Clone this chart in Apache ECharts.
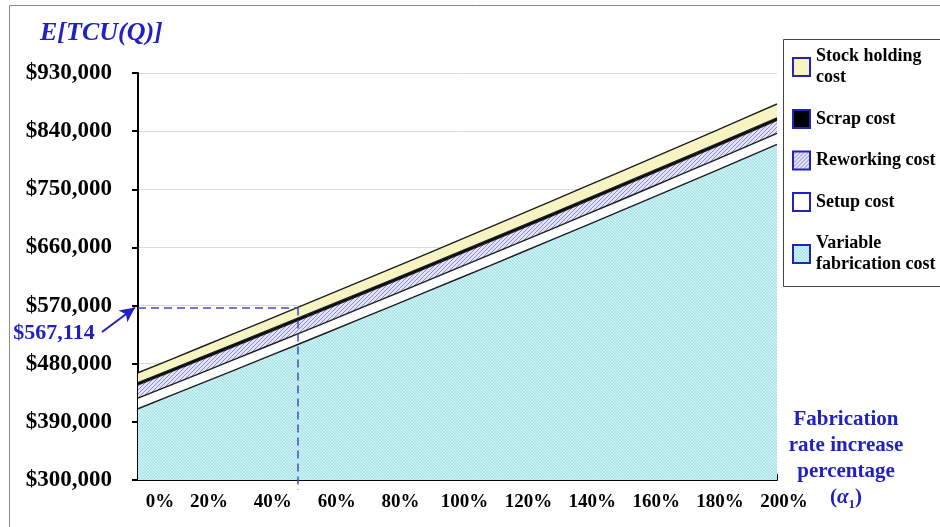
<!DOCTYPE html>
<html>
<head>
<meta charset="utf-8">
<script src="https://cdn.jsdelivr.net/npm/echarts@6/dist/echarts.min.js"></script>
<style>
  html, body { margin: 0; padding: 0; background: #ffffff; }
  #chart { width: 940px; height: 527px; }
</style>
</head>
<body>
<div id="chart"></div>
<script>
// Fabrication rate increase percentage (alpha1), one point every 10 %
const categories = ['0%', '10%', '20%', '30%', '40%', '50%', '60%', '70%', '80%', '90%', '100%',
                    '110%', '120%', '130%', '140%', '150%', '160%', '170%', '180%', '190%', '200%'];

// Cost components of E[TCU(Q)], stacked from the bottom up
const variableFabricationCost = [410300, 430070, 449890, 469760, 489730, 509764, 529884, 550084, 570354, 590704, 611134,
                                 631604, 652154, 672784, 693484, 714264, 735124, 756054, 777064, 798204, 819414];
const setupCost       = [16400, 16430, 16460, 16490, 16520, 16550, 16580, 16610, 16640, 16670, 16700,
                         16730, 16760, 16790, 16820, 16850, 16880, 16910, 16940, 16970, 17000];
const reworkingCost   = [20400, 20380, 20360, 20340, 20320, 20300, 20280, 20260, 20240, 20220, 20200,
                         20190, 20180, 20170, 20160, 20150, 20140, 20130, 20120, 20110, 20100];
const scrapCost       = [3700, 3720, 3740, 3760, 3780, 3800, 3820, 3840, 3860, 3880, 3900,
                         3900, 3900, 3900, 3900, 3900, 3900, 3900, 3900, 3900, 3900];
const stockHoldingCost = [15200, 15500, 15800, 16100, 16400, 16700, 17000, 17300, 17600, 17900, 18200,
                          18550, 18900, 19250, 19600, 19950, 20300, 20650, 21000, 21300, 21600];

// Value axis range
const yMin = 300000;
const yMax = 930000;
const yStep = 90000;

// Highlighted total at alpha1 = 50 %
const markedCategory = '50%';
const markedTotal = 567114;

const SERIF = '"Liberation Serif", "Times New Roman", serif';
const BLUE = '#2020c4';

// Small repeating hatch tiles used as area fills
function hatch(base, line, size, step, dir) {
  const c = document.createElement('canvas');
  c.width = size; c.height = size;
  const g = c.getContext('2d');
  g.fillStyle = base;
  g.fillRect(0, 0, size, size);
  g.strokeStyle = line;
  g.lineWidth = 1;
  g.beginPath();
  for (let k = -size; k <= size; k += step) {
    if (dir > 0) { g.moveTo(k, size); g.lineTo(k + size, 0); }
    else { g.moveTo(k, 0); g.lineTo(k + size, size); }
  }
  g.stroke();
  return { image: c, repeat: 'repeat' };
}

const fills = {
  variable: hatch('#c8f3f4', '#a6dbe3', 6, 3, -1),
  setup: '#ffffff',
  rework: hatch('#e2e2f8', '#8c8cd6', 8, 4, 1),
  scrap: '#000000',
  stock: '#f7f3c2'
};
const swatchColor = { variable: '#c8f3f4', setup: '#ffffff', rework: '#c4c4ee', scrap: '#000000', stock: '#f7f3c2' };

function areaSeries(name, key, data, z) {
  return {
    name: name,
    type: 'line',
    stack: 'cost',
    data: data,
    z: z,
    symbol: 'none',
    showSymbol: false,
    silent: true,
    lineStyle: { color: '#1e1e1e', width: 1.4 },
    itemStyle: { color: swatchColor[key] },
    areaStyle: { color: fills[key], opacity: 1 },
    emphasis: { disabled: true }
  };
}

const legendLabels = {
  'Stock holding cost': 'Stock holding\ncost',
  'Scrap cost': 'Scrap cost',
  'Reworking cost': 'Reworking cost',
  'Setup cost': 'Setup cost',
  'Variable fabrication cost': 'Variable\nfabrication cost'
};

function legendItem(name, key) {
  return { name: name, itemStyle: { color: fills[key], borderColor: '#2323b8', borderWidth: 2 } };
}

const stockSeries = areaSeries('Stock holding cost', 'stock', stockHoldingCost, 6);
stockSeries.markLine = {
  z: 20,
  silent: true,
  animation: false,
  symbol: ['none', 'none'],
  label: { show: false },
  lineStyle: { color: '#4150c0', type: [8, 5], width: 1.5 },
  data: [
    [{ coord: ['0%', markedTotal] }, { coord: [markedCategory, markedTotal] }],
    [{ coord: [markedCategory, markedTotal] }, { coord: [markedCategory, yMin], y: 490 }],
    [
      { x: 102, y: 332, symbol: 'none', lineStyle: { type: 'solid', width: 2, color: BLUE } },
      { coord: ['0%', markedTotal], x: 135, symbol: 'arrow', symbolSize: [11, 15] }
    ]
  ]
};

const chart = echarts.init(document.getElementById('chart'), null, { renderer: 'canvas' });

chart.setOption({
  animation: false,
  backgroundColor: '#ffffff',
  textStyle: { fontFamily: SERIF },
  title: {
    text: 'E[TCU(Q)]',
    left: 40,
    top: 20,
    padding: 0,
    textStyle: { fontFamily: SERIF, fontStyle: 'italic', fontWeight: 'bold', fontSize: 26, color: BLUE }
  },
  grid: { left: 138, right: 163, top: 73, bottom: 47 },
  legend: {
    orient: 'vertical',
    left: 787,
    top: 41,
    itemGap: 20.5,
    itemWidth: 17,
    itemHeight: 18,
    icon: 'rect',
    selectedMode: false,
    formatter: function (n) { return legendLabels[n]; },
    textStyle: { fontFamily: SERIF, fontWeight: 'bold', fontSize: 18, color: '#000', lineHeight: 21, padding: [0, 0, 0, 1] },
    data: [
      legendItem('Stock holding cost', 'stock'),
      legendItem('Scrap cost', 'scrap'),
      legendItem('Reworking cost', 'rework'),
      legendItem('Setup cost', 'setup'),
      legendItem('Variable fabrication cost', 'variable')
    ]
  },
  xAxis: {
    type: 'category',
    data: categories,
    boundaryGap: false,
    axisLine: { lineStyle: { color: '#000', width: 2 } },
    axisTick: { show: true, inside: true, interval: 0, length: 6, lineStyle: { color: '#000', width: 2 } },
    axisLabel: {
      interval: 1,
      margin: 13,
      color: '#000',
      formatter: function (v, i) { return (i === 0 ? '{f|' : '{n|') + v + '}'; },
      rich: {
        f: { fontFamily: SERIF, fontWeight: 'bold', fontSize: 19, color: '#000', padding: [0, 0, 0, 44] },
        n: { fontFamily: SERIF, fontWeight: 'bold', fontSize: 19, color: '#000', padding: [0, 0, 0, 14] }
      }
    },
    splitLine: { show: false }
  },
  yAxis: {
    type: 'value',
    min: yMin,
    max: yMax,
    interval: yStep,
    axisLine: { show: true, lineStyle: { color: '#000', width: 2 } },
    axisTick: { show: true, inside: false, length: 6, lineStyle: { color: '#000', width: 2 } },
    axisLabel: {
      margin: 26,
      color: '#000',
      fontFamily: SERIF,
      fontWeight: 'bold',
      fontSize: 23,
      formatter: function (v) { return '$' + v.toLocaleString('en-US'); }
    },
    splitLine: { show: true, lineStyle: { color: '#dcdcdc', width: 1 } }
  },
  series: [
    areaSeries('Variable fabrication cost', 'variable', variableFabricationCost, 10),
    areaSeries('Setup cost', 'setup', setupCost, 9),
    areaSeries('Reworking cost', 'rework', reworkingCost, 8),
    areaSeries('Scrap cost', 'scrap', scrapCost, 7),
    stockSeries
  ],
  graphic: [
    {
      type: 'rect', silent: true, z: -1,
      shape: { x: 9.5, y: 5.5, width: 960, height: 560 },
      style: { fill: 'none', stroke: '#8c8c8c', lineWidth: 1 }
    },
    {
      type: 'rect', silent: true, z: 1,
      shape: { x: 783.5, y: 39.5, width: 200, height: 247 },
      style: { fill: 'none', stroke: '#444444', lineWidth: 1 }
    },
    {
      type: 'text', silent: true, z: 30,
      x: 54, y: 333,
      style: {
        text: '$' + markedTotal.toLocaleString('en-US'),
        align: 'center', verticalAlign: 'middle',
        fontFamily: SERIF, fontWeight: 'bold', fontSize: 22, fill: BLUE
      }
    },
    {
      type: 'text', silent: true, z: 30,
      x: 846, y: 407,
      style: {
        text: 'Fabrication\nrate increase\npercentage\n{p|(}{a|α}{s|1}{p|)}',
        align: 'center', verticalAlign: 'top',
        fontFamily: SERIF, fontWeight: 'bold', fontSize: 21, lineHeight: 26, fill: BLUE,
        rich: {
          p: { fontFamily: SERIF, fontWeight: 'bold', fontSize: 21, fill: BLUE },
          a: { fontFamily: SERIF, fontWeight: 'bold', fontStyle: 'italic', fontSize: 21, fill: BLUE },
          s: { fontFamily: SERIF, fontWeight: 'bold', fontSize: 13, fill: BLUE, verticalAlign: 'bottom', padding: [8, 0, 0, 0] }
        }
      }
    }
  ]
});
</script>
</body>
</html>
